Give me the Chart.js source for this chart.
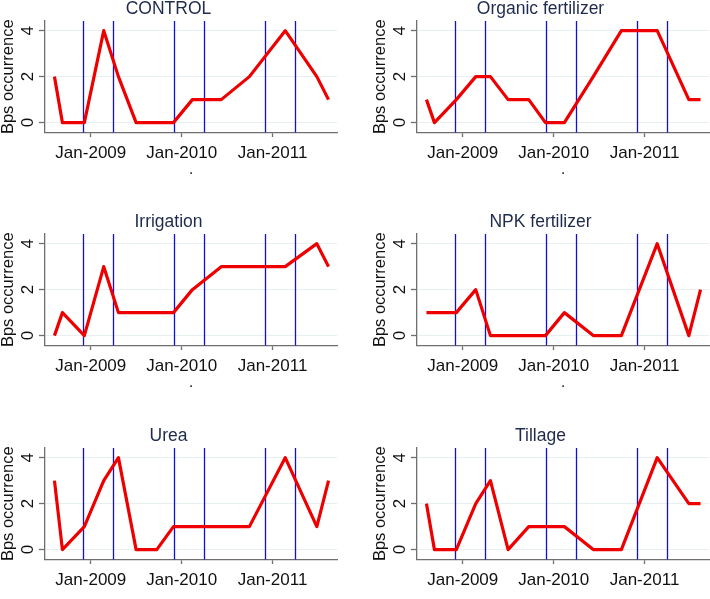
<!DOCTYPE html>
<html><head><meta charset="utf-8">
<script src="https://cdn.jsdelivr.net/npm/chart.js@4.4.1/dist/chart.umd.min.js"></script>
<style>
html,body{margin:0;padding:0;background:#fff;overflow:hidden;width:710px;height:599px;position:relative;}
canvas{position:absolute;}
</style></head><body>
<canvas id="c0"></canvas><canvas id="c1"></canvas><canvas id="c2"></canvas>
<canvas id="c3"></canvas><canvas id="c4"></canvas><canvas id="c5"></canvas>
<script>
// ---- data ----
const surveyDates = ['2008-08-08','2008-09-09','2008-12-06','2009-02-22','2009-04-22','2009-07-02','2009-09-23',
  '2009-11-29','2010-02-13','2010-06-09','2010-09-30','2011-02-21','2011-06-28','2011-08-14'];
const controlValues    = [2,0,0,4,2,0,0,0,1,1,2,4,2,1];
const organicValues    = [1,0,1,2,2,1,1,0,0,2,4,4,1,1];
const irrigationValues = [0,1,0,3,1,1,1,1,2,3,3,3,4,3];
const npkValues        = [1,1,1,2,0,0,0,0,1,0,0,4,0,2];
const ureaValues       = [3,0,1,3,4,0,0,1,1,1,1,4,1,3];
const tillageValues    = [2,0,0,2,3,0,1,1,1,0,0,4,2,2];
const panelTitles = ['CONTROL','Organic fertilizer','Irrigation','NPK fertilizer','Urea','Tillage'];
const panelValues = [controlValues, organicValues, irrigationValues, npkValues, ureaValues, tillageValues];
const seasonLineDates = ['2008-12-01','2009-04-01','2009-12-01','2010-04-01','2010-12-01','2011-04-01'];
const xTickDates = ['2009-01-01','2010-01-01','2011-01-01'];
const xTickLabels = ['Jan-2009','Jan-2010','Jan-2011'];
const xRange = ['2008-07-01','2011-09-17'];
const yTickValues = [0,2,4];
const yRange = [-0.43, 4.42];
const yAxisTitle = 'Bps occurrence';
const xAxisTitle = '.';

// ---- helpers ----
const EPOCH = Date.UTC(2009,0,1);
function toDay(s){ const p=s.split('-').map(Number); return (Date.UTC(p[0],p[1]-1,p[2])-EPOCH)/86400000; }

const FONT = "'Liberation Sans', Arial, Helvetica, sans-serif";
const AXIS_COLOR = '#6f6f6f';

const overlayPlugin = {
  id: 'overlay',
  beforeDatasetsDraw(chart){
    const {ctx, chartArea, scales} = chart;
    ctx.save();
    ctx.strokeStyle = '#1010d8';
    ctx.lineWidth = 1.3;
    seasonLineDates.forEach(d => {
      const x = Math.round(scales.x.getPixelForValue(toDay(d))) + 0.5;
      ctx.beginPath(); ctx.moveTo(x, chartArea.top); ctx.lineTo(x, chartArea.bottom); ctx.stroke();
    });
    ctx.restore();
  },
  afterDraw(chart){
    const {ctx, scales} = chart;
    ctx.save();
    ctx.fillStyle = '#111';
    ctx.font = '17px ' + FONT;
    ctx.textAlign = 'center';
    ctx.textBaseline = 'middle';
    yTickValues.forEach(v => {
      const y = scales.y.getPixelForValue(v);
      ctx.save(); ctx.translate(28, y); ctx.rotate(-Math.PI/2);
      ctx.fillText(String(v), 0, 0); ctx.restore();
    });
    ctx.restore();
  }
};

const W_LEFT = 342, W_RIGHT = 338, H = 186;
const rowTops = [0, 213, 427];
const colLefts = [0, 372];

panelTitles.forEach((title, i) => {
  const row = Math.floor(i/2), col = i%2;
  const cv = document.getElementById('c'+i);
  const w = col===0 ? W_LEFT : W_RIGHT;
  cv.width = w; cv.height = H;
  cv.style.left = colLefts[col]+'px'; cv.style.top = rowTops[row]+'px';
  cv.style.width = w+'px'; cv.style.height = H+'px';
  const values = panelValues[i];
  new Chart(cv, {
    type: 'line',
    data: { datasets: [{
      data: surveyDates.map((d,k)=>({x: toDay(d), y: values[k]})),
      borderColor: '#ee0000', borderWidth: 3.2, pointRadius: 0, tension: 0, fill: false,
      borderJoinStyle: 'round'
    }]},
    options: {
      responsive: false, animation: false, devicePixelRatio: 1,
      layout: { padding: { top: 0, left: 0, bottom: 0, right: col===0 ? 5 : 1 } },
      plugins: {
        legend: { display: false }, tooltip: { enabled: false },
        title: { display: true, text: title, color: '#1f2b4d',
          font: { family: FONT, size: 17.5, weight: 'normal', lineHeight: 1 }, padding: { top: 0, bottom: 3.5 } }
      },
      scales: {
        x: {
          type: 'linear', min: toDay(xRange[0]), max: toDay(xRange[1]),
          afterBuildTicks: s => { s.ticks = xTickDates.map(d=>({value: toDay(d)})); },
          afterFit: s => { s.height = H - 21 - 111.5; },
          ticks: { autoSkip: false, maxRotation: 0, minRotation: 0, padding: 6, color: '#111',
            font: { family: FONT, size: 17 },
            callback: (v, idx) => xTickLabels[idx] },
          grid: { drawOnChartArea: false, drawTicks: true, tickLength: 4.5, tickColor: AXIS_COLOR, tickWidth: 1.3 },
          border: { display: true, color: AXIS_COLOR, width: 1.3 },
          title: { display: true, text: xAxisTitle, color: '#333', font: { family: FONT, size: 17, lineHeight: 1.2 },
            padding: { top: 0, bottom: 6 } }
        },
        y: {
          type: 'linear', min: yRange[0], max: yRange[1],
          afterBuildTicks: s => { s.ticks = yTickValues.map(v=>({value: v})); },
          afterFit: s => { s.width = 45; },
          ticks: { display: false },
          grid: { drawOnChartArea: true, color: '#e8eff1', lineWidth: 1, drawTicks: true, tickLength: 6,
            tickColor: AXIS_COLOR, tickWidth: 1.3 },
          border: { display: true, color: AXIS_COLOR, width: 1.3 },
          title: { display: true, text: yAxisTitle, color: '#111', font: { family: FONT, size: 16.5, lineHeight: 1 },
            padding: { top: 0, bottom: 0 } }
        }
      }
    },
    plugins: [overlayPlugin]
  });
});
</script>
</body></html>
